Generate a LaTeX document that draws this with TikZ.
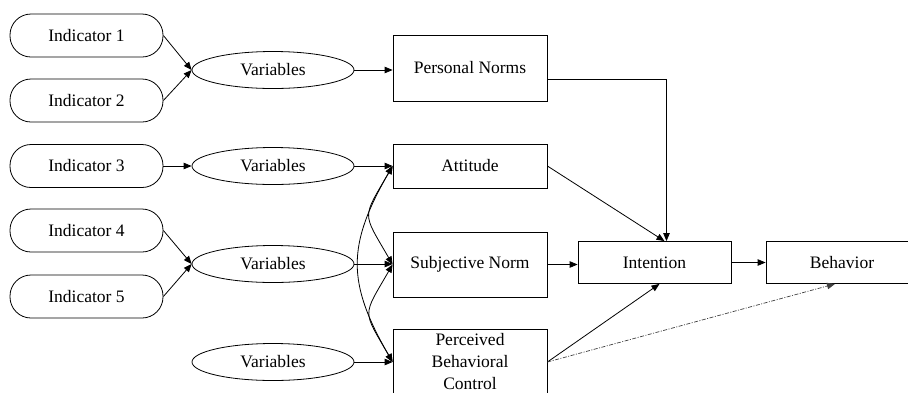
\documentclass[tikz,border=0pt]{standalone}
\usepackage{fontspec}
\newfontfamily\timesish{LiberationSerif-Regular.ttf}
\usetikzlibrary{arrows.meta,shapes.geometric}
\begin{document}
\begin{tikzpicture}[x=1pt,y=-1pt,
  every node/.style={font=\timesish\fontsize{17.5}{22.5}\selectfont, inner sep=1pt},
  indic/.style={draw, line width=0.8pt, rectangle, rounded corners=21pt, minimum width=153pt, minimum height=43pt},
  latent/.style={draw, line width=0.8pt, ellipse, minimum width=162pt, minimum height=37pt},
  box/.style={draw, line width=0.8pt, rectangle, minimum width=154pt, align=center},
  arr/.style={line width=0.8pt, -{Triangle[length=8pt,width=6.5pt]}},
  darr/.style={line width=0.8pt, {Triangle[length=8pt,width=6.5pt]}-{Triangle[length=8pt,width=6.5pt]}},
  dd/.style={line width=0.7pt, black!75, dash pattern=on 4pt off 1.5pt on 1pt off 1.5pt, -{Triangle[length=8pt,width=6.5pt]}}
]
\clip (0,0) rectangle (908,392);
\fill[white] (0,0) rectangle (908,392);

\node[indic] (i1) at (86.5,35.5) {Indicator 1};
\node[indic] (i2) at (86.5,100.5) {Indicator 2};
\node[indic] (i3) at (86.5,166) {Indicator 3};
\node[indic] (i4) at (86.5,230.5) {Indicator 4};
\node[indic] (i5) at (86.5,296.5) {Indicator 5};

\node[latent] (v1) at (273,70) {Variables};
\node[latent] (v2) at (273,166) {Variables};
\node[latent] (v3) at (273,264) {Variables};
\node[latent] (v4) at (273,362) {Variables};

\node[box, minimum height=66pt] (pn) at (470,68) {Personal Norms};
\node[box, minimum height=44pt] (att) at (470,166) {Attitude};
\node[box, minimum height=65pt] (sn) at (470,264.5) {Subjective Norm};
\node[box, minimum height=66pt, font=\timesish\fontsize{17.5}{22}\selectfont] (pbc) at (470,362) {Perceived\\Behavioral\\Control};

\node[box, minimum width=153pt, minimum height=42pt] (int) at (654.5,262.5) {Intention};
\node[box, minimum width=152pt, minimum height=42pt] (beh) at (842,262.5) {Behavior};

\draw[arr] (i1.east) -- (v1.west);
\draw[arr] (i2.east) -- (v1.west);
\draw[arr] (i3.east) -- (v2.west);
\draw[arr] (i4.east) -- (v3.west);
\draw[arr] (i5.east) -- (v3.west);

\draw[arr] (v1.east) -- (v1.east -| pn.west);
\draw[arr] (v2.east) -- (v2.east -| att.west);
\draw[arr] (v3.east) -- (v3.east -| sn.west);
\draw[arr] (v4.east) -- (v4.east -| pbc.west);

\draw[darr] (att.west) to[out=240,in=120,looseness=1.6] (sn.west);
\draw[darr] (sn.west) to[out=240,in=120,looseness=1.6] (pbc.west);
\draw[darr] (att.west) to[out=240,in=120,looseness=1.2] (pbc.west);

\draw[arr] ([yshift=-11pt]pn.east) -| ([xshift=12pt]int.north);
\draw[arr] (att.east) -- ([xshift=10pt]int.north);
\draw[arr] (sn.east) -- (sn.east -| int.west);
\draw[arr] (pbc.east) -- ([xshift=5pt]int.south);
\draw[arr] (int.east) -- (beh.west);
\draw[dd] (pbc.east) -- ([xshift=-7pt]beh.south);
\end{tikzpicture}
\end{document}
